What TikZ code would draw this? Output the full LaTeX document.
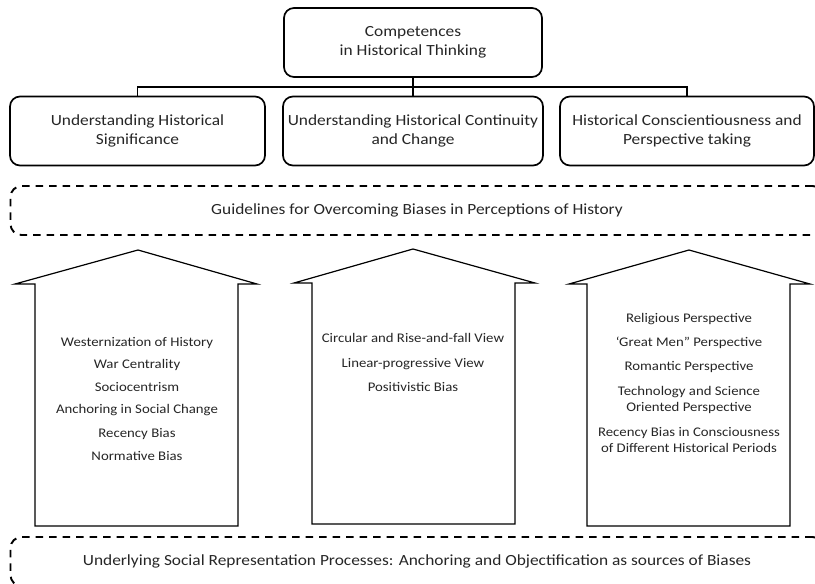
\documentclass[tikz,border=0pt]{standalone}
\usepackage{fontspec}
\setmainfont{Carlito}[FakeStretch=1.12]
\begin{document}
\begin{tikzpicture}[x=1pt,y=-1pt,
  box/.style={draw, line width=1.7pt, rounded corners=10pt, align=center,
    font=\fontsize{15.5}{19}\selectfont, inner sep=0pt, minimum height=69pt, text=black!85},
  dbox/.style={draw, line width=1.9pt, dash pattern=on 7.5pt off 6pt, rounded corners=11pt,
    font=\fontsize{15.5}{19}\selectfont, inner sep=0pt, minimum height=49pt, minimum width=813pt, text=black!85},
  conn/.style={draw, line width=1.5pt},
  arrowshape/.style={draw, line width=1.2pt, line join=miter},
  item/.style={font=\fontsize{13.2}{16.5}\selectfont, anchor=base, inner sep=0pt, text=black!85}]
\useasboundingbox (0,0) rectangle (815,584);
\clip (0,0) rectangle (815,584);

% top box and second row
\node[box, minimum width=258pt] (top) at (413,42.5) {Competences\\in Historical Thinking};
\node[box, minimum width=255pt] (b1) at (137.5,131) {Understanding Historical\\Significance};
\node[box, minimum width=260pt] (b2) at (413,131) {Understanding Historical Continuity\\and Change};
\node[box, minimum width=254pt] (b3) at (687,131) {Historical Conscientiousness and\\Perspective taking};

\coordinate (j) at (413,87);
\draw[conn] (top.south) -- (j);
\draw[conn] (b1.north) |- (j) -| (b3.north);
\draw[conn] (j) -- (b2.north);

% dashed boxes
\node[dbox] (guide) at (417,210.5) {Guidelines for Overcoming Biases in Perceptions of History};
\node[dbox] (under) at (417,561.5) {Underlying Social Representation Processes: Anchoring and Objectification as sources of Biases};

% arrows
\draw[arrowshape] (138,250) -- (15,284) -- (35,284) -- (35,526) -- (238,526) -- (238,284) -- (257,284) -- cycle;
\draw[arrowshape] (413,249) -- (294,283) -- (312,283) -- (312,524) -- (515,524) -- (515,283) -- (535,283) -- cycle;
\draw[arrowshape] (689,250) -- (569,284) -- (587,284) -- (587,526) -- (790,526) -- (790,284) -- (810,284) -- cycle;

% left list
\node[item] (l1) at (137,346) {Westernization of History};
\node[item] (l2) at (137,368.5) {War Centrality};
\node[item] (l3) at (137,391.5) {Sociocentrism};
\node[item] (l4) at (137,413.5) {Anchoring in Social Change};
\node[item] (l5) at (137,437) {Recency Bias};
\node[item] (l6) at (137,460) {Normative Bias};

% middle list
\node[item] (m1) at (413,342) {Circular and Rise-and-fall View};
\node[item] (m2) at (413,367) {Linear-progressive View};
\node[item] (m3) at (413,391) {Positivistic Bias};

% right list
\node[item] (r1) at (689,322) {Religious Perspective};
\node[item] (r2) at (689,346) {‘Great Men” Perspective};
\node[item] (r3) at (689,370) {Romantic Perspective};
\node[item] (r4) at (689,395) {Technology and Science};
\node[item] (r5) at (689,411.5) {Oriented Perspective};
\node[item] (r6) at (689,436) {Recency Bias in Consciousness};
\node[item] (r7) at (689,452.5) {of Different Historical Periods};
\end{tikzpicture}
\end{document}
